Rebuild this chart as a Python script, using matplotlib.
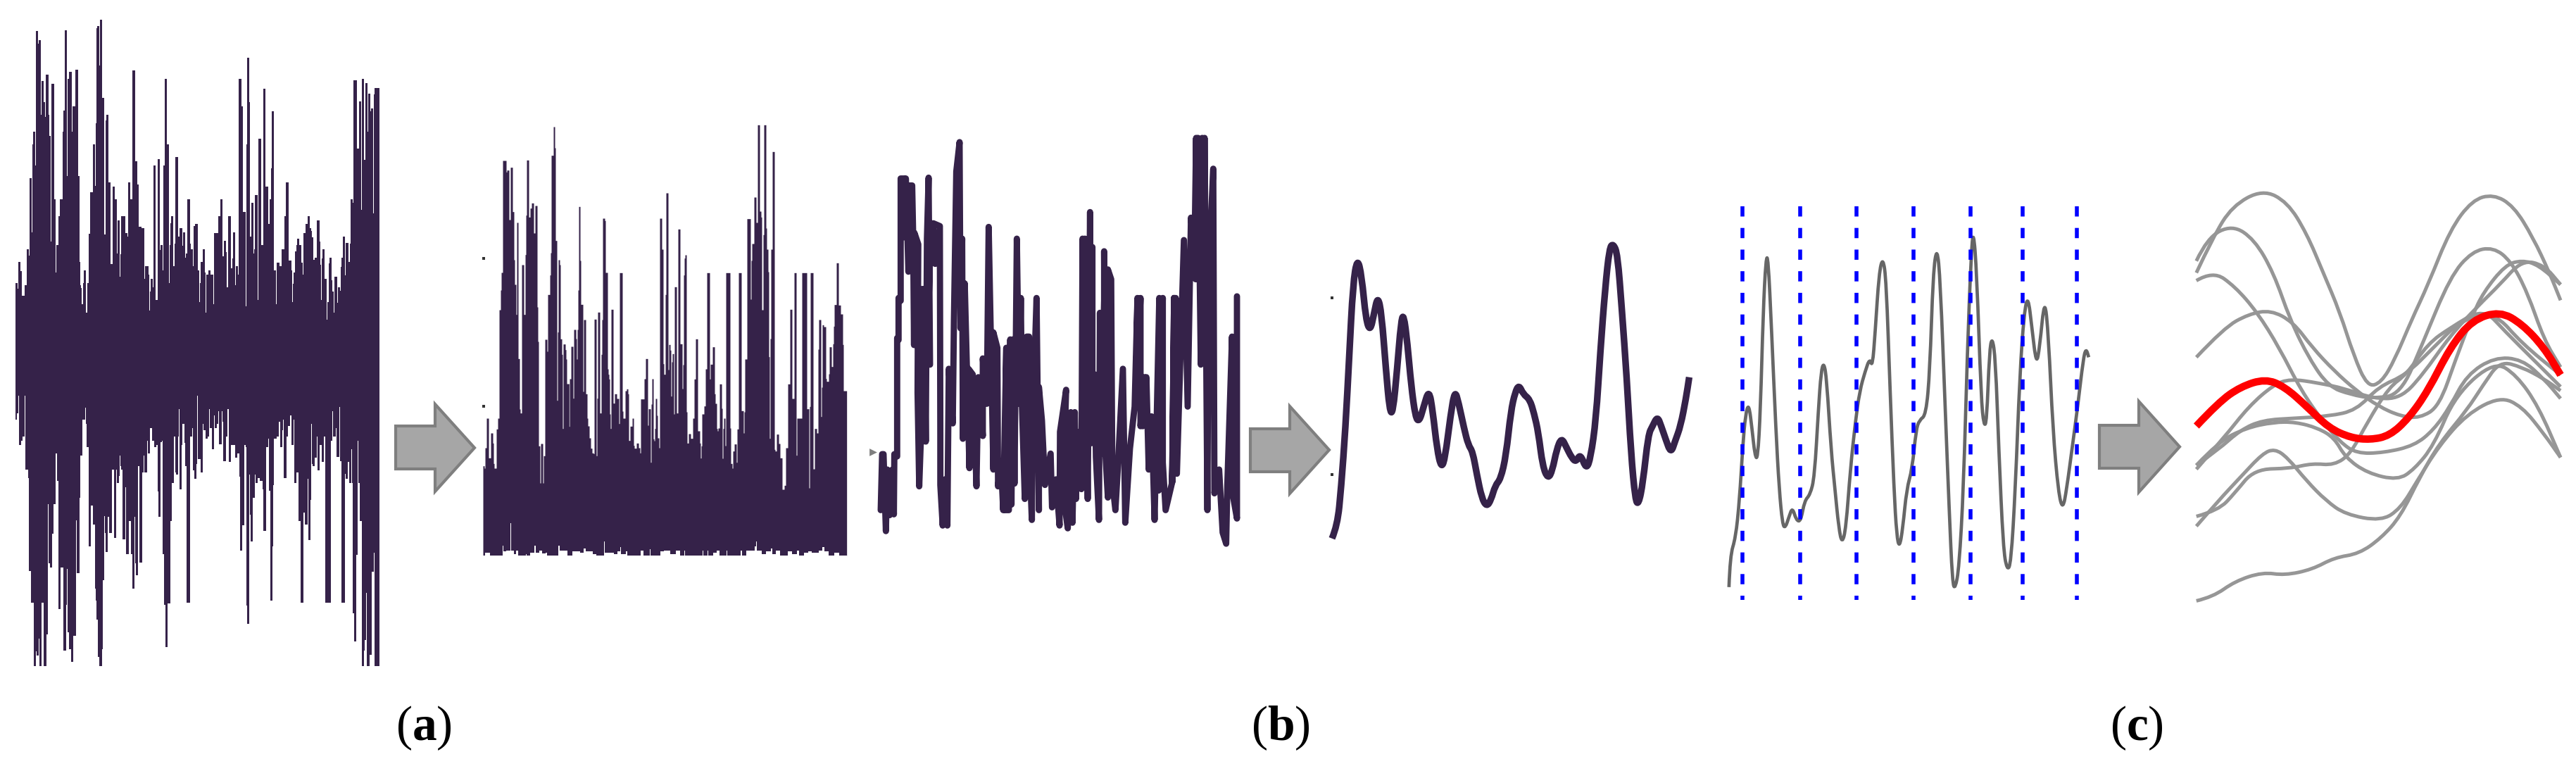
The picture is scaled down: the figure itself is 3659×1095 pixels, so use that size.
"""Signal processing pipeline figure: raw signal, envelopes, segmentation and averaged beat."""
import matplotlib

matplotlib.use("Agg")
import matplotlib.pyplot as plt
import numpy as np
from matplotlib.patches import PathPatch, Polygon
from matplotlib.path import Path

W, H = 3659, 1095
DARK = "#352249"
GRAY = "#666666"
LIGHT = "#969696"

# raw signal, upper edge: (sample, level)
RAW_TOP = [(20,1147),(30,1170),(33,1056),(42,1095),(48,1200),(60,1155),(69,1003),(78,1028),(81,700),(90,930),(93,555),(97,502),(105,645),(108,72),(117,125),(120,112),(129,430),(132,285),(141,375),(147,437),(150,257),(162,430),(165,518),(171,968),(174,296),(186,788),(192,1100),(195,985),(204,860),(210,788),(222,502),(225,410),(231,70),(240,690),(243,275),(249,245),(261,500),(264,392),(276,237),(288,690),(294,1056),(297,1155),(300,1167),(303,1236),(309,1147),(312,1092),(321,1272),(327,1147),(333,935),(339,760),(351,555),(360,732),(363,465),(366,60),(369,52),(378,220),(381,25),(390,358),(399,938),(405,453),(408,430),(417,716),(426,1065),(435,735),(444,788),(453,1020),(456,878),(465,1118),(468,1023),(471,860),(489,933),(498,948),(501,716),(510,788),(519,240),(531,627),(540,727),(546,905),(558,913),(570,1128),(573,1075),(588,1110),(591,1262),(594,1182),(597,1128),(606,1163),(609,645),(618,1217),(627,618),(636,1005),(639,985),(648,1092),(651,645),(657,277),(666,555),(675,1146),(678,985),(681,890),(684,860),(693,1075),(699,978),(702,609),(714,948),(720,913),(732,988),(735,930),(744,1038),(747,1020),(754,788),(765,978),(768,1002),(777,1075),(780,903),(786,895),(798,1092),(804,1227),(807,1147),(810,1056),(819,1002),(828,1100),(831,1272),(834,1110),(843,1092),(852,1110),(864,1236),(867,933),(885,860),(894,788),(903,1032),(909,967),(918,1015),(921,1165),(927,860),(938,1084),(945,1040),(948,930),(957,1155),(960,1075),(969,1110),(972,277),(984,393),(990,842),(1002,1245),(1005,555),(1008,186),(1017,375),(1020,948),(1026,805),(1035,1020),(1038,1002),(1041,770),(1053,1218),(1056,530),(1068,985),(1077,318),(1086,735),(1098,895),(1104,788),(1110,657),(1113,414),(1122,1092),(1131,1236),(1134,1058),(1146,1075),(1155,1003),(1167,860),(1173,716),(1185,1050),(1197,1092),(1200,1227),(1203,1150),(1206,1102),(1212,1011),(1218,985),(1221,958),(1230,985),(1239,1058),(1245,1110),(1248,933),(1257,895),(1266,860),(1275,913),(1281,925),(1284,950),(1290,1047),(1296,1038),(1305,878),(1317,968),(1320,1068),(1323,1218),(1326,1042),(1329,1003),(1338,1128),(1347,1302),(1350,1227),(1356,1062),(1359,1038),(1368,1135),(1371,1182),(1377,1272),(1380,1120),(1392,1230),(1395,1165),(1404,1180),(1407,1077),(1410,1038),(1416,948),(1425,1113),(1428,976),(1440,1056),(1446,978),(1449,788),(1458,803),(1461,283),(1476,572),(1485,372),(1494,833),(1497,276),(1506,620),(1512,294),(1521,500),(1524,340),(1533,415),(1536,403),(1545,850),(1548,342),(1552,316),(1572,316)]

# raw signal, lower edge
RAW_BOTTOM = [(20,107),(27,80),(33,0),(36,215),(45,198),(51,180),(60,0),(63,322),(75,357),(78,753),(87,888),(99,1157),(108,1095),(111,1112),(120,1040),(123,1157),(132,888),(141,1157),(153,1022),(159,467),(162,720),(168,737),(177,594),(183,467),(192,252),(198,368),(204,915),(213,737),(225,1092),(237,897),(240,745),(243,1015),(249,1085),(258,1139),(267,1029),(279,538),(282,763),(294,440),(297,260),(306,107),(318,57),(321,125),(324,224),(333,648),(342,475),(351,555),(360,827),(363,878),(366,960),(372,1120),(378,1157),(390,1085),(393,792),(399,520),(402,590),(405,672),(414,522),(420,592),(432,322),(441,611),(450,322),(453,377),(462,348),(465,262),(468,305),(471,322),(477,618),(489,396),(492,681),(504,540),(513,681),(519,827),(528,522),(531,720),(534,772),(543,306),(549,717),(561,332),(567,262),(570,332),(582,198),(585,251),(594,145),(603,198),(612,224),(621,216),(627,413),(630,521),(639,205),(645,198),(648,681),(654,897),(660,1076),(669,890),(681,540),(687,378),(696,180),(702,333),(705,341),(714,180),(717,63),(720,404),(729,216),(732,126),(741,207),(744,306),(749,888),(765,180),(774,145),(777,323),(783,359),(792,296),(795,3),(798,277),(810,332),(819,126),(822,153),(831,188),(840,180),(846,63),(849,144),(858,233),(867,90),(870,143),(879,126),(885,72),(888,213),(900,72),(903,117),(906,285),(918,180),(924,63),(930,287),(939,216),(957,269),(966,252),(975,350),(978,665),(987,558),(996,217),(1002,225),(1005,900),(1008,978),(1017,342),(1020,513),(1023,628),(1032,441),(1041,342),(1044,377),(1053,357),(1062,368),(1074,405),(1077,583),(1089,225),(1098,189),(1101,411),(1107,880),(1116,648),(1119,387),(1122,189),(1134,180),(1143,117),(1149,224),(1158,153),(1161,108),(1164,358),(1176,180),(1182,135),(1191,90),(1197,215),(1206,108),(1209,377),(1218,332),(1227,540),(1236,888),(1248,504),(1254,555),(1266,360),(1269,620),(1278,450),(1281,126),(1284,297),(1287,305),(1296,270),(1305,180),(1308,323),(1317,216),(1326,288),(1335,180),(1341,888),(1365,198),(1371,72),(1374,180),(1386,144),(1389,268),(1401,54),(1404,285),(1410,888),(1425,340),(1428,360),(1437,288),(1443,378),(1452,234),(1455,378),(1458,933),(1464,1052),(1473,684),(1479,198),(1482,378),(1488,540),(1497,1157),(1506,1092),(1509,1047),(1515,845),(1518,1157),(1530,1110),(1539,755),(1548,675),(1551,1157),(1572,1157)]

# rectified signal, upper edge
RECT_TOP = [(18,1475),(24,1485),(27,1398),(33,1272),(42,1441),(51,1335),(60,1378),(63,1465),(66,1485),(75,1318),(81,1272),(87,810),(93,726),(96,651),(102,174),(117,223),(120,215),(129,426),(135,203),(144,392),(150,597),(153,702),(159,830),(162,438),(168,1018),(174,1233),(177,1250),(183,618),(192,830),(198,575),(201,407),(204,172),(213,415),(219,377),(225,355),(234,483),(240,366),(249,798),(252,945),(255,1390),(261,1548),(264,1380),(273,1548),(276,1432),(282,936),(291,987),(294,745),(303,662),(306,567),(309,152),(318,30),(324,120),(327,515),(333,1196),(336,905),(339,597),(345,618),(348,934),(354,1000),(357,1316),(360,956),(369,980),(372,1020),(375,1125),(385,1307),(387,1104),(393,966),(402,1187),(405,894),(414,933),(417,1020),(420,894),(423,726),(426,370),(432,600),(435,787),(444,1158),(447,852),(456,1168),(462,1272),(465,1305),(471,1356),(477,1400),(483,1420),(489,1423),(492,850),(501,1432),(504,1187),(507,820),(516,1250),(522,1000),(525,852),(528,420),(537,430),(540,651),(549,1062),(552,1085),(555,1105),(558,1254),(561,1316),(564,808),(573,1208),(579,1168),(588,1188),(597,1295),(600,652),(612,1242),(615,1272),(624,1155),(630,1147),(636,1168),(639,1367),(645,1306),(654,1272),(660,1388),(663,1400),(672,1378),(681,1398),(687,1420),(690,1190),(705,1104),(711,1018),(720,1302),(723,1232),(732,1460),(735,1212),(738,1104),(744,1360),(747,1368),(750,1316),(753,1188),(759,1260),(762,1356),(768,1398),(771,420),(780,552),(786,1040),(789,1085),(795,745),(798,312),(807,1065),(810,958),(816,982),(819,1178),(822,1032),(825,997),(831,1254),(834,712),(843,1250),(849,466),(858,955),(867,1146),(870,1044),(873,662),(876,590),(879,576),(885,1245),(888,1378),(894,1338),(903,1358),(912,1272),(918,1105),(924,934),(933,1326),(942,1378),(945,1442),(948,1390),(951,1254),(960,1220),(966,1062),(972,652),(984,1105),(987,1042),(996,968),(1005,1168),(1008,1209),(1014,1316),(1017,1326),(1020,1314),(1026,1126),(1035,1230),(1038,1443),(1041,1316),(1044,1272),(1050,1389),(1053,652),(1071,1314),(1074,1465),(1080,1485),(1083,1412),(1089,1382),(1098,1460),(1101,1318),(1107,652),(1119,1240),(1128,1335),(1131,1245),(1134,1020),(1143,422),(1158,765),(1161,600),(1164,528),(1173,330),(1182,438),(1188,22),(1197,390),(1203,415),(1206,810),(1212,490),(1215,22),(1224,462),(1227,552),(1233,648),(1236,1010),(1239,1358),(1242,933),(1245,552),(1251,136),(1260,1405),(1263,1412),(1269,1340),(1278,1380),(1284,1441),(1293,1575),(1302,1558),(1308,1398),(1317,1126),(1326,808),(1335,1188),(1344,652),(1353,1430),(1356,1272),(1377,652),(1398,1232),(1407,1569),(1410,1222),(1413,652),(1425,1488),(1431,1316),(1440,1335),(1446,978),(1449,852),(1458,1265),(1461,1140),(1464,874),(1470,882),(1479,1103),(1482,1115),(1491,1083),(1494,968),(1503,1052),(1509,955),(1512,880),(1515,788),(1524,610),(1533,790),(1542,828),(1551,958),(1554,1155),(1568,1155)]

# rectified signal, ragged floor
RECT_FLOOR = [(18,1857),(28,1845),(47,1857),(103,1815),(106,1840),(118,1836),(135,1719),(138,1836),(150,1850),(160,1836),(167,1857),(200,1850),(205,1857),(220,1845),(238,1815),(243,1845),(258,1836),(270,1848),(285,1845),(290,1857),(338,1815),(345,1836),(378,1857),(400,1838),(420,1838),(432,1845),(447,1826),(455,1840),(470,1838),(485,1850),(500,1857),(535,1796),(538,1845),(560,1845),(575,1850),(590,1838),(604,1820),(607,1850),(628,1838),(632,1857),(690,1836),(702,1857),(730,1830),(733,1857),(775,1838),(790,1836),(815,1850),(840,1836),(857,1857),(875,1836),(879,1857),(955,1835),(958,1857),(975,1835),(978,1857),(1000,1845),(1015,1836),(1025,1857),(1057,1836),(1060,1857),(1115,1836),(1122,1857),(1140,1836),(1175,1818),(1183,1796),(1186,1836),(1205,1850),(1225,1840),(1245,1826),(1250,1850),(1265,1836),(1285,1857),(1318,1838),(1335,1850),(1355,1836),(1365,1857),(1385,1845),(1405,1838),(1420,1845),(1450,1836),(1465,1820),(1472,1838),(1490,1857),(1515,1845),(1535,1857),(1569,1857)]
RECT_DOTS_X = [22, 22]
RECT_DOTS_Y = [590, 1220]

# thick downsampled trace
COARSE = [(48,1370),(54,1170),(60,1170),(70,1445),(76,1225),(86,1388),(98,1225),(104,1385),(106,1170),(118,1178),(118,755),(124,762),(124,612),(133,622),(133,185),(148,185),(150,395),(155,185),(166,518),(172,210),(182,210),(186,380),(190,780),(192,380),(208,420),(205,950),(212,1285),(218,1140),(225,580),(228,1125),(232,580),(240,1125),(245,400),(252,182),(258,850),(245,850),(262,345),(280,490),(272,345),(300,355),(302,1100),(302,1280),(312,1425),(322,1260),(332,1425),(338,865),(355,1060),(360,690),(370,160),(384,55),(388,720),(395,400),(398,1115),(406,560),(426,1220),(422,865),(440,885),(456,1285),(464,895),(483,1105),(483,828),(500,990),(508,358),(528,1225),(528,735),(545,790),(548,1285),(560,1195),(570,1370),(583,790),(578,1370),(594,1370),(600,760),(605,1350),(612,760),(618,1275),(628,400),(638,990),(645,612),(650,1000),(662,1330),(670,750),(680,750),(678,1100),(692,1405),(695,1070),(712,612),(722,1370),(722,930),(735,1050),(748,1280),(772,1168),(778,1360),(795,1260),(810,1425),(812,1090),(838,940),(825,1310),(845,1435),(858,1020),(865,1415),(875,1020),(880,1330),(885,1090),(903,1295),(908,400),(912,1100),(918,400),(930,1330),(940,305),(945,1130),(935,460),(950,430),(950,1130),(960,885),(965,1180),(978,1405),(982,665),(985,1170),(1000,620),(1000,445),(1005,1160),(1016,1325),(1016,510),(1030,545),(1035,1270),(1048,1370),(1058,1225),(1080,865),(1090,1415),(1110,1150),(1130,1000),(1142,612),(1135,1000),(1155,612),(1155,1070),(1172,895),(1165,1070),(1180,895),(1190,1225),(1202,1035),(1215,1405),(1235,612),(1232,1300),(1250,612),(1250,1200),(1262,1370),(1290,1270),(1298,612),(1290,1270),(1305,612),(1310,1240),(1340,405),(1356,1000),(1370,325),(1385,455),(1392,40),(1390,545),(1400,40),(1412,850),(1418,40),(1425,620),(1428,40),(1440,1370),(1445,525),(1465,150),(1470,1310),(1490,1225),(1505,1450),(1520,1490),(1525,1280),(1545,750),(1545,1300),(1566,1400),(1566,606)]

# smoothed trace
SMOOTH_X = [865,875,882,890,897,904,912,920,928,936,943,950,957,965,972,978,986,993,998,1005,1012,1020,1027,1035,1045,1052,1060,1068,1075,1085,1093,1100,1110,1118,1126,1134,1143,1152,1160,1168,1178,1188,1197,1205,1212,1220,1232,1240,1248,1256,1266,1274,1282,1291,1300,1310,1318,1326,1337,1345,1355,1363,1372,1380,1387,1395,1403,1412,1420,1428,1434,1442,1452,1460,1469,1476,1484,1494,1502,1512,1522,1528]
SMOOTH_Y = [1020,990,900,760,590,420,358,400,505,532,490,448,490,620,720,725,620,510,490,560,660,735,745,710,668,720,810,855,830,730,670,700,760,800,815,870,925,945,930,895,880,825,720,675,658,680,692,725,770,850,880,860,810,782,805,830,840,820,858,830,740,580,430,335,325,350,480,640,820,930,940,890,775,755,732,755,785,820,790,755,690,640]
SMOOTH_DOTS_X = [865, 865]
SMOOTH_DOTS_Y = [453, 870]

# segmented trace and cut positions
SEG_X = [33,35,45,52,58,63,69,75,80,85,90,95,100,104,110,118,124,130,135,142,148,155,163,170,180,188,195,200,205,210,218,225,232,238,245,253,262,270,280,288,293,298,305,312,318,325,332,337,342,348,355,365,372,378,390,397,403,410,416,425,432,438,443,450,458,465,472,476,482,490,495,500,505,510,516,522,530,537,544,552,560,568,575,582,590,596,605,612,620,630,638,645,655,665,675,680,685]
SEG_Y = [1100,1020,975,880,740,660,632,700,765,775,650,400,262,262,440,700,850,940,950,920,897,930,933,880,865,820,650,550,528,570,750,850,950,990,950,800,680,600,550,518,540,450,300,260,320,600,850,970,1000,950,850,800,700,675,662,550,300,232,320,650,900,1090,1105,1050,850,500,250,190,300,620,690,680,500,462,520,750,1000,1058,1040,850,560,400,358,440,535,490,360,460,700,860,903,850,745,640,520,492,515]
CUTS_X = [57, 162, 264, 368, 471, 565, 664]
CUT_SPAN = [130, 1133]

# overlaid beats
BEAT_A = [(880,300),(910,210),(945,130),(1000,88),(1045,120),(1080,200),(1110,300),(1140,400),(1165,510),(1190,590),(1215,580),(1240,520),(1270,420),(1300,330),(1340,190),(1380,115),(1418,100),(1455,130),(1490,210),(1520,300),(1540,370)]
BEAT_B = [(880,270),(900,210),(945,178),(985,215),(1020,300),(1050,420),(1085,520),(1120,590),(1160,610),(1200,620),(1250,610),(1290,480),(1340,310),(1380,245),(1418,235),(1450,270),(1480,350),(1510,470),(1540,540)]
BEAT_C = [(880,320),(910,295),(950,335),(990,400),(1030,490),(1070,600),(1110,680),(1140,730),(1170,760),(1220,758),(1275,740),(1310,700),(1340,640),(1370,560),(1420,515),(1470,520),(1510,570),(1540,620)]
BEAT_D = [(880,515),(930,440),(975,405),(1015,395),(1055,425),(1090,490),(1130,550),(1170,600),(1210,640),(1250,665),(1285,670),(1320,640),(1350,520),(1380,410),(1400,350),(1440,280),(1470,268),(1500,280),(1540,330)]
BEAT_E = [(880,800),(930,720),(975,640),(1020,585),(1050,570),(1100,580),(1150,595),(1200,620),(1250,620),(1290,560),(1340,460),(1390,385),(1430,330),(1470,268),(1510,280),(1540,330)]
BEAT_F = [(880,790),(920,730),(970,695),(1020,680),(1060,680),(1100,695),(1130,720),(1150,770),(1190,810),(1245,828),(1275,800),(1310,740),(1350,610),(1420,525),(1460,560),(1500,640),(1540,770)]
BEAT_G = [(880,945),(920,880),(960,820),(1000,760),(1022,748),(1045,770),(1080,830),(1115,880),(1150,915),(1215,932),(1250,900),(1280,830),(1320,740),(1370,660),(1430,615),(1470,640),(1510,710),(1540,770)]
BEAT_H = [(880,1135),(910,1125),(950,1085),(1000,1062),(1040,1070),(1090,1055),(1130,1025),(1175,1015),(1215,975),(1250,920),(1285,820),(1320,735),(1370,650),(1400,585),(1430,525),(1470,540),(1510,570),(1540,600)]
BEAT_I = [(880,920),(920,905),(950,860),(985,800),(1050,798),(1090,785),(1130,790),(1160,760),(1190,680),(1230,590),(1260,560),(1300,480),(1340,440),(1400,390),(1440,450),(1490,520),(1540,590)]
BEAT_J = [(880,790),(920,750),(960,700),(1000,675),(1060,670),(1120,665),(1170,650),(1210,590),(1260,560),(1310,490),(1360,420),(1420,400),(1470,480),(1540,560)]
BEAT_MEAN = [(880,690),(920,630),(960,590),(1005,570),(1040,590),(1080,640),(1120,695),(1160,720),(1195,725),(1230,715),(1265,670),(1300,600),(1340,490),(1380,420),(1430,398),(1470,430),(1510,490),(1540,560)]

LABELS = ["a", "b", "c"]
LABEL_X = [602, 1819, 3035]

plt.rcParams["mathtext.fontset"] = "custom"
plt.rcParams["mathtext.bf"] = "Liberation Serif:bold"
plt.rcParams["mathtext.rm"] = "Liberation Serif"
plt.rcParams["font.family"] = ["Liberation Serif", "DejaVu Serif"]


def panel(fig, left, top, right, bottom, xlim, ylim):
    # axes placed by picture pixels, y axis points down like the source scan
    ax = fig.add_axes([left / W, 1 - bottom / H, (right - left) / W, (bottom - top) / H])
    ax.set_xlim(*xlim)
    ax.set_ylim(*ylim)
    ax.axis("off")
    return ax


def px(points):
    return np.array(points, dtype=float).T


def curve(ax, xs, ys, **kw):
    # read points act as quadratic control points, so the stroke has no corners
    pts = np.column_stack([xs, ys])
    verts = [pts[0]]
    codes = [Path.MOVETO]
    for i in range(1, len(pts) - 1):
        verts += [pts[i], (pts[i] + pts[i + 1]) / 2]
        codes += [Path.CURVE3, Path.CURVE3]
    verts.append(pts[-1])
    codes.append(Path.LINETO)
    ax.add_patch(PathPatch(Path(verts, codes), fill=False, capstyle="butt", joinstyle="round", **kw))


def arrow(ax, x0, xm, x1, top, s0, s1, bot):
    shape = [(x0, s0), (xm, s0), (xm, top), (x1, (top + bot) / 2), (xm, bot), (xm, s1), (x0, s1)]
    ax.add_patch(Polygon(shape, closed=True, fc="#a6a6a6", ec="#7f7f7f", lw=3.0, joinstyle="miter"))


def main():
    fig = plt.figure(figsize=(W / 100, H / 100), dpi=100, facecolor="white")

    # raw signal
    ax = panel(fig, 15, 20, 539, 1080, (0, 1572), (3180, 0))
    x, y = px(RAW_TOP)
    ax.fill_between(x, y, 1625, step="post", color=DARK, lw=0)
    x, y = px(RAW_BOTTOM)
    ax.fill_between(x, y + 1620, 1615, step="post", color=DARK, lw=0)

    # rectified signal
    ax = panel(fig, 680, 170, 1203, 790, (0, 1569), (1860, 0))
    x, y = px(RECT_TOP)
    ax.fill_between(x, y, 1857, step="post", color=DARK, lw=0)
    x, y = px(RECT_FLOOR)
    ax.fill_between(x, y, 1860, step="post", color="white", lw=0)
    ax.scatter(RECT_DOTS_X, RECT_DOTS_Y, s=6, marker="s", color="#333333", lw=0)

    # coarse trace
    ax = panel(fig, 1235, 180, 1762, 800, (0, 1581), (1560, 0))
    x, y = px(COARSE)
    ax.plot(x, y, color=DARK, lw=6.4, solid_joinstyle="round", solid_capstyle="round")
    ax.scatter([16], [1162], s=60, marker=">", color="#7f7f7f", lw=0)

    # smoothed trace
    ax = panel(fig, 1230, 150, 2430, 1095, (0, 1568), (1568, 0))
    curve(ax, SMOOTH_X, SMOOTH_Y, ec=DARK, lw=6.8)
    ax.scatter(SMOOTH_DOTS_X, SMOOTH_DOTS_Y, s=6, marker="s", color="#333333", lw=0)

    # segmentation and beats share one crop frame
    ax = panel(fig, 2430, 220, 3659, 1095, (0, 1568), (1568, 0))
    for cx in CUTS_X:
        ax.plot([cx, cx], CUT_SPAN, color="#0000ff", lw=4.0, dashes=(2.61, 2.92), dash_capstyle="butt")
    curve(ax, SEG_X, SEG_Y, ec=GRAY, lw=3.4)
    beats = [BEAT_A, BEAT_B, BEAT_C, BEAT_D, BEAT_E, BEAT_F, BEAT_G, BEAT_H, BEAT_I, BEAT_J]
    for beat in beats:
        bx, by = px(beat)
        curve(ax, bx, by, ec=LIGHT, lw=3.6)
    bx, by = px(BEAT_MEAN)
    curve(ax, bx, by, ec="#ff0000", lw=7.6)

    # arrows and sub-figure labels live in picture pixels
    over = panel(fig, 0, 0, W, H, (0, W), (H, 0))
    arrow(over, 562, 618, 674, 574, 605, 666, 698)
    arrow(over, 1776, 1832, 1888, 577, 609, 670, 701)
    arrow(over, 2982, 3038, 3096, 570, 604, 665, 699)
    for name, lx in zip(LABELS, LABEL_X):
        over.text(lx, 1034, rf"($\mathbf{{{name}}}$)", ha="center", va="center", fontsize=50, color="black")

    fig.savefig("out.png", dpi=100, facecolor="white")
    plt.close(fig)


if __name__ == "__main__":
    main()
